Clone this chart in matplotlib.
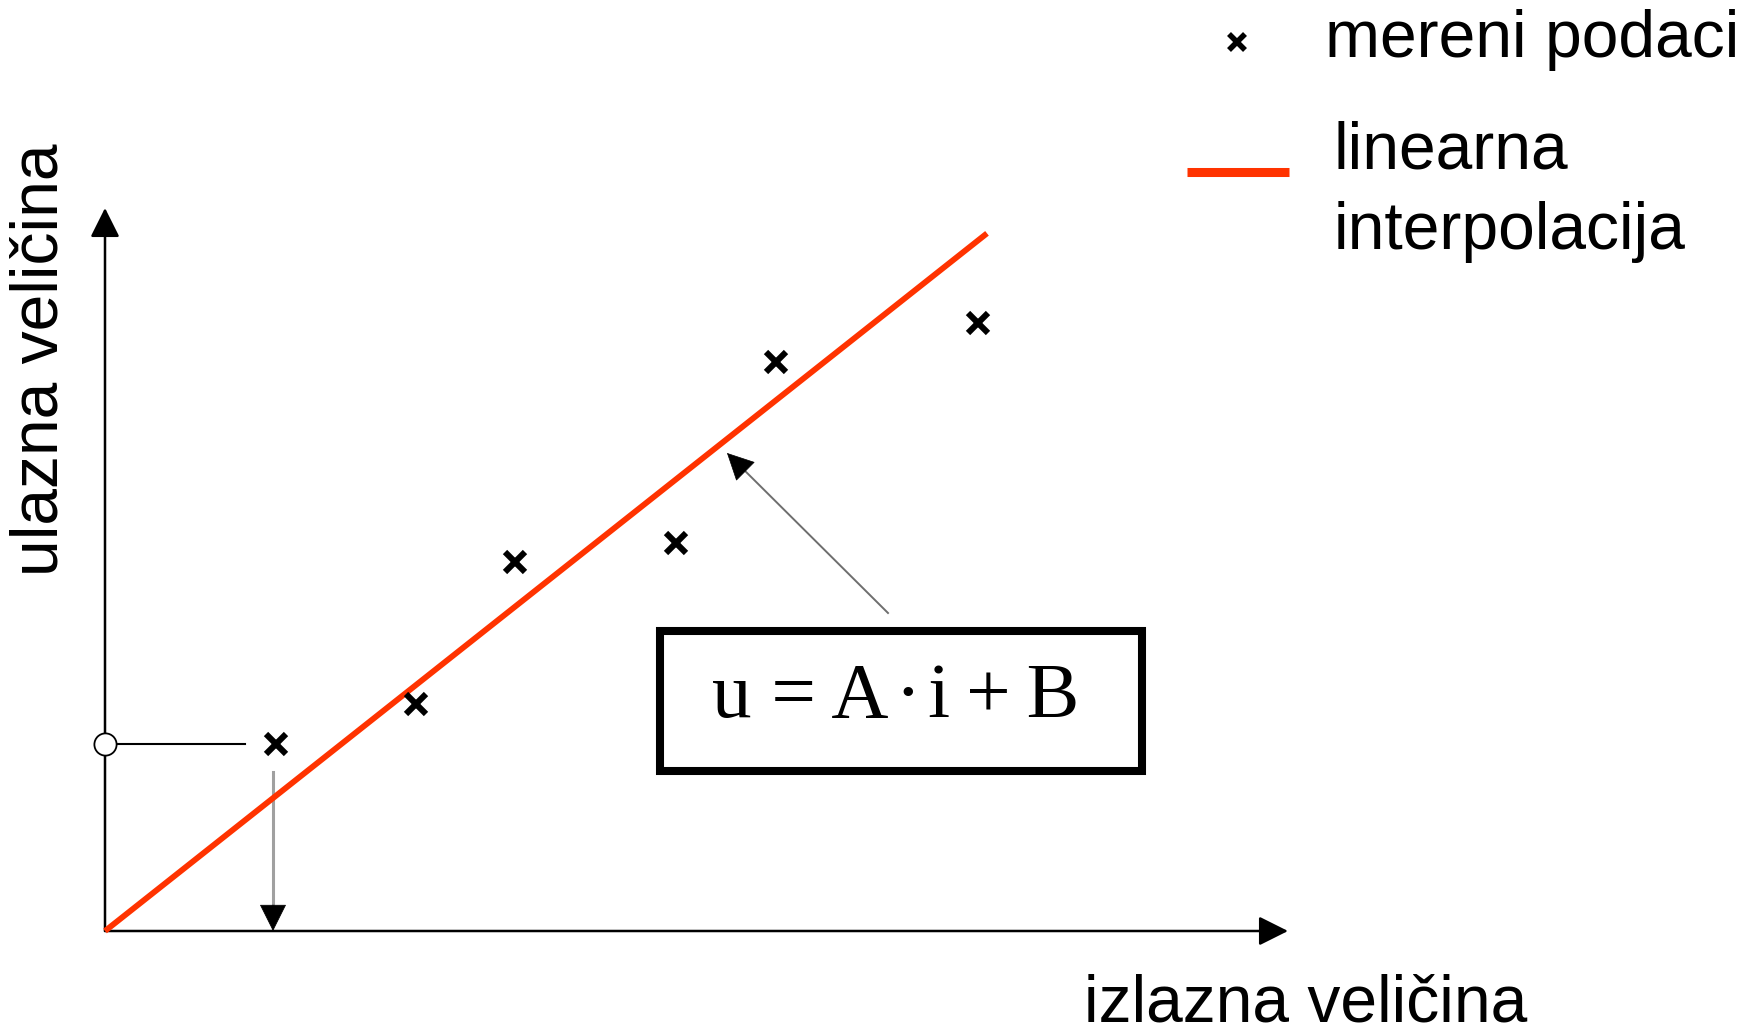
import numpy as np
import matplotlib
matplotlib.use("Agg")
import matplotlib.pyplot as plt
from matplotlib.patches import Rectangle

# measured data (arbitrary units)
izlaz = [1.71, 3.11, 4.10, 5.71, 6.71, 8.73]
ulaz = [1.87, 2.27, 3.69, 3.88, 5.69, 6.08]

# linear interpolation u = A*i + B
A = 0.791
B = 0.0
fit_x = [0.0, 8.82]

red = '#ff3300'
sans = ['Liberation Sans', 'DejaVu Sans']
serif = ['Liberation Serif', 'DejaVu Serif']
head = '-|>,head_length=0.4,head_width=0.2'

fig = plt.figure(figsize=(17.64, 10.34), dpi=100)
ax = fig.add_axes([0, 0, 1, 1])
ax.set_xlim(-1.05, 16.59)
ax.set_ylim(-1.03, 9.31)
ax.axis('off')

# axes with arrow heads
ax.annotate('', xy=(11.83, 0), xytext=(0, 0),
            arrowprops=dict(arrowstyle=head, color='black', lw=1.8,
                            mutation_scale=45, shrinkA=0, shrinkB=0))
ax.annotate('', xy=(0, 7.23), xytext=(0, 0),
            arrowprops=dict(arrowstyle=head, color='black', lw=1.8,
                            mutation_scale=45, shrinkA=0, shrinkB=0))

# fitted line
fit_y = [A * x + B for x in fit_x]
ax.plot(fit_x, fit_y, color=red, lw=4.2, solid_capstyle='butt', zorder=3)

# measured points
ax.plot(izlaz, ulaz, linestyle='none', marker='x', ms=14, mew=4.4,
        color='black', zorder=4)

# reading of first point: horizontal guide + circle on the y axis
x0, y0 = izlaz[0], ulaz[0]
ax.plot([0, x0 - 0.31], [y0, y0], color='black', lw=1.5, zorder=2)
ax.plot([0], [y0], marker='o', ms=16, mfc='white', mec='black', mew=1.3,
        zorder=5)

# vertical grey arrow down to the x axis
ax.plot([x0 - 0.03, x0 - 0.03], [y0 - 0.28, 0.2], color='#a0a0a0', lw=2.2, zorder=2)
ax.annotate('', xy=(x0 - 0.03, 0), xytext=(x0 - 0.03, 0.26),
            arrowprops=dict(arrowstyle=head, color='black', lw=0.5,
                            mutation_scale=45, shrinkA=0, shrinkB=0), zorder=3)

# equation box and arrow pointing to the line
ax.add_patch(Rectangle((5.55, 1.60), 4.82, 1.40, fill=False, ec='black',
                       lw=5.8, zorder=3))
ax.text(7.91, 2.14, 'u = A\u200a·\u200ai\u2009+\u2009B', family=serif,
        fontsize=57, ha='center', va='baseline', zorder=4)

tip_x = 6.22
tip_y = A * tip_x + B - 0.14
tail = (7.83, 3.18)
dx, dy = tip_x - tail[0], tip_y - tail[1]
d = np.hypot(dx, dy)
hl = 0.25
ax.plot([tail[0], tip_x - dx / d * hl], [tail[1], tip_y - dy / d * hl],
        color='#6e6e6e', lw=1.4, zorder=2)
ax.annotate('', xy=(tip_x, tip_y), xytext=(tip_x - dx / d * hl, tip_y - dy / d * hl),
            arrowprops=dict(arrowstyle=head, color='black', lw=0.5,
                            mutation_scale=45, shrinkA=0, shrinkB=0), zorder=3)

# axis labels
ax.text(-0.64, 5.71, 'ulazna veličina', family=sans, fontsize=47.5,
        rotation=90, ha='center', va='center')
ax.text(9.79, -0.90, 'izlazna veličina', family=sans, fontsize=47.5,
        ha='left', va='baseline')

# legend
ax.plot([11.32], [8.89], linestyle='none', marker='x', ms=12, mew=4.0,
        color='black')
ax.text(12.20, 8.74, 'mereni podaci', family=sans, fontsize=47.5,
        ha='left', va='baseline')
ax.plot([10.82, 11.84], [7.59, 7.59], color=red, lw=6.5, solid_capstyle='butt')
ax.text(12.29, 7.62, 'linearna', family=sans, fontsize=47.5,
        ha='left', va='baseline')
ax.text(12.29, 6.82, 'interpolacija', family=sans, fontsize=47.5,
        ha='left', va='baseline')

fig.savefig('out.png', dpi=100, facecolor='white')
